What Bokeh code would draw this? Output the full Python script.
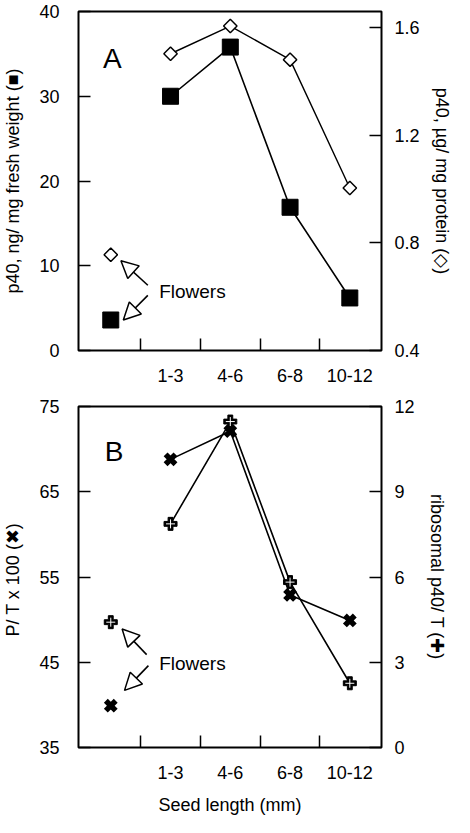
import numpy as np
from bokeh.plotting import figure
from bokeh.models import (Range1d, LinearAxis, FixedTicker, Label, Arrow, NormalHead)
from bokeh.layouts import column
from bokeh.embed import file_html
from bokeh.resources import INLINE

# ---------------- data ----------------
categories = ["1-3", "4-6", "6-8", "10-12"]
cat_x = [1, 2, 3, 4]
flower_x = [0]

# Panel A
fw_seed = [30.0, 35.8, 16.9, 6.2]          # p40, ng/mg fresh weight (squares)
fw_flower = [3.6]
prot_seed = [1.503, 1.606, 1.481, 1.004]   # p40, ug/mg protein (diamonds)
prot_flower = [0.756]

# Panel B
pt_seed = [68.8, 72.1, 52.9, 49.9]          # P/T x 100 (x marks)
pt_flower = [39.9]
rib_seed = [7.87, 11.47, 5.82, 2.26]        # ribosomal p40/T (crosses)
rib_flower = [4.41]

A_left_ticks = [0, 10, 20, 30, 40]
A_right_ticks = [0.4, 0.8, 1.2, 1.6]
B_left_ticks = [35, 45, 55, 65, 75]
B_right_ticks = [0, 3, 6, 9, 12]

FONT = "Liberation Sans"
TICK_FS = "18px"
LABEL_FS = "18px"


def style_axis(ax, standoff_lab, standoff_tick):
    ax.axis_line_color = None
    ax.major_tick_line_color = "black"
    ax.major_tick_line_width = 1.5
    ax.major_tick_in = 12
    ax.major_tick_out = 0
    ax.minor_tick_line_color = None
    ax.major_label_text_font = FONT
    ax.major_label_text_font_size = TICK_FS
    ax.major_label_text_color = "black"
    ax.major_label_standoff = standoff_tick
    ax.axis_label_text_font = FONT
    ax.axis_label_text_font_size = LABEL_FS
    ax.axis_label_text_font_style = "normal"
    ax.axis_label_text_color = "black"
    ax.axis_label_standoff = standoff_lab


def style_xaxis(ax):
    ax.ticker = FixedTicker(ticks=cat_x, minor_ticks=[0.5, 1.5, 2.5, 3.5])
    ax.major_label_overrides = {c: l for c, l in zip(cat_x, categories)}
    ax.axis_line_color = None
    ax.major_tick_line_color = None
    ax.major_tick_in = 0
    ax.major_tick_out = 0
    ax.minor_tick_line_color = "black"
    ax.minor_tick_line_width = 1.5
    ax.minor_tick_in = 12
    ax.minor_tick_out = 0
    ax.major_label_text_font = FONT
    ax.major_label_text_font_size = TICK_FS
    ax.major_label_text_color = "black"
    ax.major_label_standoff = 18
    ax.axis_label_text_font = FONT
    ax.axis_label_text_font_size = LABEL_FS
    ax.axis_label_text_font_style = "normal"
    ax.axis_label_text_color = "black"
    ax.axis_label_standoff = 13


def base_fig(yr, w, h, bl, br, bt, bb):
    p = figure(width=w, height=h,
               x_range=Range1d(-0.54, 4.53), y_range=yr,
               output_backend="svg", toolbar_location=None,
               min_border_left=bl, min_border_right=br,
               min_border_top=bt, min_border_bottom=bb)
    p.grid.visible = False
    p.outline_line_color = "black"
    p.outline_line_width = 2
    p.background_fill_color = "white"
    p.border_fill_color = "white"
    return p


def add_arrows(p, arrows):
    for (xs, ys, xe, ye) in arrows:
        p.add_layout(Arrow(end=NormalHead(size=17, fill_color="white", line_color="black",
                                          line_width=1.5),
                           x_start=xs, y_start=ys, x_end=xe, y_end=ye,
                           line_color="black", line_width=1.6))


def right_axis(p, rng_name, ticks, label):
    ax = LinearAxis(y_range_name=rng_name, ticker=FixedTicker(ticks=ticks),
                    axis_label=label)
    style_axis(ax, 9, 13)
    p.add_layout(ax, "right")
    return ax


# ---------------- Panel A ----------------
pA = base_fig(Range1d(0, 40), 454, 392, 74, 67, 11, 42)
style_xaxis(pA.xaxis[0])
pA.yaxis[0].ticker = FixedTicker(ticks=A_left_ticks)
pA.yaxis[0].axis_label = "p40, ng/ mg fresh weight (\u25a0)"
style_axis(pA.yaxis[0], 13, 19)

pA.extra_y_ranges = {"prot": Range1d(0.4, 1.66)}
right_axis(pA, "prot", A_right_ticks, "p40, \u00b5g/ mg protein (\u25c7)")

pA.line(cat_x, fw_seed, line_color="black", line_width=1.6)
pA.line(cat_x, prot_seed, line_color="black", line_width=1.4, y_range_name="prot")
pA.scatter(cat_x + flower_x, fw_seed + fw_flower, marker="square", size=16,
           fill_color="black", line_color="black")
pA.scatter(cat_x + flower_x, prot_seed + prot_flower, marker="square", size=9.5,
           angle=np.pi / 4, fill_color="white", line_color="black", line_width=1.5,
           y_range_name="prot")

pA.add_layout(Label(x=-0.13, y=34.4, text="A", text_font=FONT, text_font_size="28px",
                    text_color="black", text_baseline="alphabetic"))
pA.add_layout(Label(x=0.81, y=7.0, text="Flowers", text_font=FONT, text_font_size="19px",
                    text_color="black", text_baseline="middle"))
add_arrows(pA, [(0.62, 7.7, 0.17, 10.6), (0.62, 6.5, 0.21, 3.6)])

# ---------------- Panel B ----------------
pB = base_fig(Range1d(35, 75), 454, 425, 72, 69, 14, 66)
style_xaxis(pB.xaxis[0])
pB.xaxis[0].axis_label = "Seed length (mm)"
pB.yaxis[0].ticker = FixedTicker(ticks=B_left_ticks)
pB.yaxis[0].axis_label = "P/ T x 100  (\u2716)"
style_axis(pB.yaxis[0], 13, 19)

pB.extra_y_ranges = {"rib": Range1d(0, 12)}
right_axis(pB, "rib", B_right_ticks, "ribosomal p40/ T (\u271a)")

pB.line(cat_x, pt_seed, line_color="black", line_width=1.6)
pB.line(cat_x, rib_seed, line_color="black", line_width=1.6, y_range_name="rib")
pB.scatter(cat_x + flower_x, rib_seed + rib_flower, marker="plus", size=13,
           fill_color="black", line_color="black", line_width=1, y_range_name="rib")
pB.scatter(cat_x + flower_x, rib_seed + rib_flower, marker="cross", size=9,
           line_color="white", line_width=1, y_range_name="rib")
pB.scatter(cat_x + flower_x, pt_seed + pt_flower, marker="x", size=14,
           line_color="black", line_width=5.5)

pB.add_layout(Label(x=-0.1, y=69.7, text="B", text_font=FONT, text_font_size="28px",
                    text_color="black", text_baseline="alphabetic"))
pB.add_layout(Label(x=0.81, y=44.9, text="Flowers", text_font=FONT, text_font_size="19px",
                    text_color="black", text_baseline="middle"))
add_arrows(pB, [(0.6, 45.9, 0.19, 48.9), (0.63, 44.6, 0.23, 41.7)])

layout = column(pA, pB, spacing=0)
open("out.html", "w").write(file_html(layout, INLINE))
